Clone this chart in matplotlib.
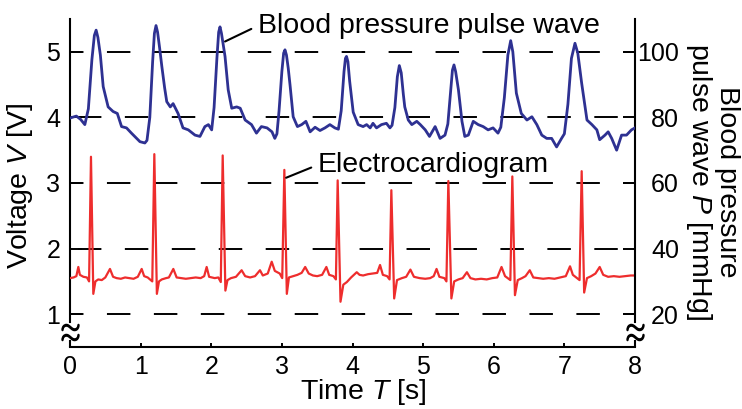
import matplotlib
matplotlib.use('Agg')
import matplotlib.pyplot as plt
import numpy as np

# pulse wave, time [s] and pressure [mmHg]
pulse_t = [0.00, 0.09, 0.15, 0.21, 0.26, 0.31, 0.345, 0.37, 0.395, 0.43, 0.47, 0.54, 0.61, 0.67,
           0.73, 0.80, 0.87, 0.99, 1.06, 1.09, 1.13, 1.17, 1.195, 1.218, 1.24, 1.27, 1.30, 1.34,
           1.37, 1.42, 1.46, 1.53, 1.60, 1.675, 1.77, 1.84, 1.91, 1.96, 2.006, 2.04, 2.08, 2.105,
           2.124, 2.145, 2.17, 2.195, 2.24, 2.29, 2.36, 2.41, 2.48, 2.57, 2.64, 2.71, 2.79, 2.86,
           2.90, 2.93, 2.96, 3.00, 3.025, 3.044, 3.065, 3.09, 3.115, 3.16, 3.22, 3.28, 3.34, 3.40,
           3.47, 3.54, 3.61, 3.68, 3.75, 3.80, 3.84, 3.88, 3.90, 3.915, 3.935, 3.96, 4.01, 4.08,
           4.15, 4.20, 4.25, 4.29, 4.34, 4.41, 4.48, 4.53, 4.56, 4.60, 4.635, 4.663, 4.69, 4.72,
           4.74, 4.79, 4.84, 4.91, 4.96, 5.03, 5.09, 5.17, 5.24, 5.31, 5.35, 5.39, 5.415, 5.437,
           5.46, 5.50, 5.55, 5.59, 5.64, 5.71, 5.78, 5.85, 5.92, 5.99, 6.06, 6.10, 6.15, 6.20,
           6.24, 6.27, 6.32, 6.39, 6.47, 6.54, 6.61, 6.68, 6.75, 6.82, 6.89, 6.96, 7.00, 7.05,
           7.10, 7.15, 7.19, 7.245, 7.32, 7.39, 7.46, 7.50, 7.575, 7.62, 7.67, 7.74, 7.81, 7.88,
           7.95, 8.00]
pulse_p = [79.8, 80.4, 79.4, 77.8, 82.6, 97.6, 105.0, 106.6, 104.4, 99.0, 89.4, 83.2, 81.8, 81.2,
           77.2, 76.8, 75.2, 72.6, 72.2, 73.0, 80.0, 97.0, 105.6, 108.0, 106.0, 101.0, 95.6, 89.0,
           84.8, 83.2, 84.2, 81.2, 76.8, 76.2, 74.6, 74.2, 77.2, 77.8, 76.2, 83.0, 98.0, 106.0,
           107.6, 105.6, 102.0, 98.6, 88.4, 82.8, 83.2, 82.8, 79.2, 77.8, 75.2, 77.2, 76.8, 75.6,
           73.6, 75.0, 82.0, 94.0, 99.6, 100.6, 99.0, 95.0, 90.0, 80.2, 77.2, 77.8, 78.8, 75.6,
           77.0, 76.0, 76.8, 77.8, 76.8, 76.4, 82.0, 94.0, 98.0, 98.6, 97.0, 91.0, 81.6, 77.8,
           77.2, 77.8, 76.8, 78.2, 76.8, 77.8, 78.2, 76.8, 77.6, 83.0, 92.4, 95.8, 93.6, 87.0,
           83.2, 79.2, 77.8, 78.8, 77.8, 76.2, 74.2, 77.2, 73.6, 74.6, 78.0, 88.0, 94.4, 96.0,
           94.0, 88.4, 78.8, 74.2, 74.6, 78.8, 77.8, 77.2, 76.2, 76.8, 75.2, 77.0, 86.0, 99.0,
           103.4, 100.0, 87.4, 81.2, 79.2, 80.2, 77.8, 74.6, 73.6, 73.6, 71.0, 73.6, 75.0, 84.0,
           98.0, 102.6, 99.6, 90.4, 79.2, 77.8, 76.2, 73.2, 74.6, 75.6, 73.6, 70.0, 74.6, 74.6,
           76.2, 76.8]

# electrocardiogram, time [s] and voltage [V]
ecg_t = [0.00, 0.05, 0.09, 0.118, 0.14, 0.19, 0.24, 0.27, 0.297, 0.33, 0.36, 0.40, 0.45, 0.50,
         0.566, 0.61, 0.66, 0.72, 0.78, 0.84, 0.90, 0.96, 1.015, 1.05, 1.10, 1.165, 1.194, 1.23,
         1.26, 1.30, 1.36, 1.40, 1.463, 1.51, 1.57, 1.64, 1.71, 1.78, 1.85, 1.90, 1.935, 1.97,
         2.05, 2.10, 2.135, 2.162, 2.20, 2.23, 2.28, 2.35, 2.43, 2.48, 2.55, 2.62, 2.69, 2.73,
         2.80, 2.856, 2.90, 2.97, 3.005, 3.035, 3.07, 3.10, 3.16, 3.22, 3.28, 3.33, 3.38, 3.44,
         3.50, 3.57, 3.63, 3.67, 3.73, 3.765, 3.79, 3.83, 3.87, 3.92, 3.98, 4.06, 4.10, 4.15,
         4.22, 4.29, 4.35, 4.39, 4.43, 4.49, 4.525, 4.55, 4.59, 4.63, 4.70, 4.76, 4.82, 4.87,
         4.95, 5.03, 5.10, 5.15, 5.19, 5.23, 5.30, 5.33, 5.357, 5.40, 5.44, 5.50, 5.56, 5.62,
         5.67, 5.74, 5.82, 5.90, 5.98, 6.05, 6.11, 6.16, 6.235, 6.263, 6.30, 6.34, 6.40, 6.45,
         6.51, 6.56, 6.63, 6.70, 6.78, 6.86, 6.94, 7.02, 7.08, 7.12, 7.215, 7.245, 7.28, 7.32,
         7.38, 7.44, 7.50, 7.55, 7.62, 7.70, 7.78, 7.86, 7.94, 8.00]
ecg_v = [1.55, 1.56, 1.58, 1.72, 1.60, 1.57, 1.56, 1.50, 3.40, 1.31, 1.50, 1.53, 1.52, 1.56,
         1.69, 1.57, 1.55, 1.54, 1.56, 1.55, 1.54, 1.57, 1.69, 1.58, 1.56, 1.50, 3.44, 1.31,
         1.50, 1.53, 1.55, 1.56, 1.69, 1.56, 1.55, 1.54, 1.55, 1.56, 1.55, 1.58, 1.72, 1.57,
         1.55, 1.56, 1.49, 3.42, 1.36, 1.52, 1.55, 1.57, 1.67, 1.58, 1.56, 1.58, 1.67, 1.59,
         1.62, 1.80, 1.66, 1.62, 1.55, 3.20, 1.31, 1.56, 1.58, 1.60, 1.63, 1.72, 1.62, 1.59,
         1.58, 1.60, 1.72, 1.60, 1.58, 1.53, 3.04, 1.19, 1.45, 1.49, 1.56, 1.64, 1.60, 1.59,
         1.61, 1.62, 1.63, 1.75, 1.60, 1.58, 1.53, 2.89, 1.24, 1.52, 1.55, 1.57, 1.68, 1.57,
         1.55, 1.54, 1.55, 1.58, 1.69, 1.57, 1.55, 1.50, 3.03, 1.24, 1.50, 1.53, 1.55, 1.64,
         1.55, 1.53, 1.54, 1.53, 1.55, 1.56, 1.72, 1.58, 1.52, 3.10, 1.29, 1.52, 1.55, 1.58,
         1.67, 1.56, 1.55, 1.54, 1.55, 1.54, 1.56, 1.58, 1.73, 1.60, 1.52, 3.18, 1.33, 1.55,
         1.58, 1.62, 1.72, 1.60, 1.57, 1.58, 1.57, 1.58, 1.59, 1.59]

x_ticks = [0, 1, 2, 3, 4, 5, 6, 7, 8]
v_ticks = [1, 2, 3, 4, 5]
p_ticks = [20, 40, 60, 80, 100]

BLUE = '#2E3192'
RED = '#EE2D2D'
LW = 1.5

params = {
    'font.family': ['Liberation Sans', 'DejaVu Sans'],
    'mathtext.fontset': 'custom',
    'mathtext.rm': 'Liberation Sans',
    'mathtext.it': 'Liberation Sans:italic',
    'axes.linewidth': LW,
    'lines.scale_dashes': False,
}
plt.rcParams.update(params)

fig = plt.figure(figsize=(7.42, 4.09), dpi=100)
ax = fig.add_axes([70 / 742, 62 / 409, 565 / 742, 328 / 409])
ax.set_xlim(0, 8)
ax.set_ylim(0.5, 5.5)
ax2 = ax.twinx()
ax2.set_ylim(10, 110)

# dashed guide lines, alternate rows have shifted dash phase
for v in v_ticks:
    off = 7.2 if v % 2 == 1 else 28.1
    ax.axhline(v, color='k', lw=1.4, linestyle=(off, (16.9, 16.9)), zorder=1)

ax.plot(ecg_t, ecg_v, color=RED, lw=1.6, zorder=3, solid_joinstyle='round')
ax2.plot(pulse_t, pulse_p, color=BLUE, lw=2.0, zorder=3, solid_joinstyle='round')

# spines
for sp in ['top', 'right']:
    ax.spines[sp].set_visible(False)
for sp in ['top', 'left', 'bottom']:
    ax2.spines[sp].set_visible(False)
ax.spines['left'].set_bounds(0.878, 5.5)
ax2.spines['right'].set_bounds(0.878 * 20, 110)

# axis break marks
for xb in [0, 8]:
    ax.axvline(xb, ymin=0, ymax=0.02, color='k', lw=LW, clip_on=False, solid_capstyle='butt')
    ax.plot([xb, xb], [0.80, 0.645], ls='none', marker='$\\sim$', ms=12, mew=1.2,
            color='k', clip_on=False, zorder=5)

ax.set_xticks(x_ticks)
ax.set_yticks(v_ticks)
ax2.set_yticks(p_ticks)
ax.tick_params(axis='x', direction='in', length=3, width=1.4, labelsize=18, pad=6)
ax.tick_params(axis='y', direction='in', length=8.6, width=1.4, labelsize=18, pad=7)
ax2.tick_params(axis='y', direction='in', length=8.6, width=1.4, labelsize=18, pad=31.7)
for lab in ax2.get_yticklabels():
    lab.set_horizontalalignment('right')

# labels
fig.text(20 / 742, 1 - 186 / 409, 'Voltage $V$ [V]', rotation=90, ha='center', va='center',
         fontsize=20.5)
fig.text(363 / 742, 1 - 392 / 409, 'Time $T$ [s]', ha='center', va='center', fontsize=20.5)
fig.text(712 / 742, 1 - 182 / 409, 'Blood pressure\npulse wave $P$ [mmHg]', rotation=270,
         ha='center', va='center', multialignment='center', linespacing=1.0, fontsize=20.5)

# annotations
ax.annotate('Blood pressure pulse wave', xy=(2.195, 5.157), xytext=(2.66, 5.29),
            ha='left', va='baseline', fontsize=20.5, annotation_clip=False,
            arrowprops=dict(arrowstyle='-', color='k', lw=1.5, shrinkA=3, shrinkB=0,
                            relpos=(0, 0.5)))
ax.annotate('Electrocardiogram', xy=(3.06, 3.08), xytext=(3.51, 3.17),
            ha='left', va='baseline', fontsize=20.5, annotation_clip=False,
            arrowprops=dict(arrowstyle='-', color='k', lw=1.5, shrinkA=3, shrinkB=0,
                            relpos=(0, 0.5)))

fig.savefig('out.png', dpi=100)
